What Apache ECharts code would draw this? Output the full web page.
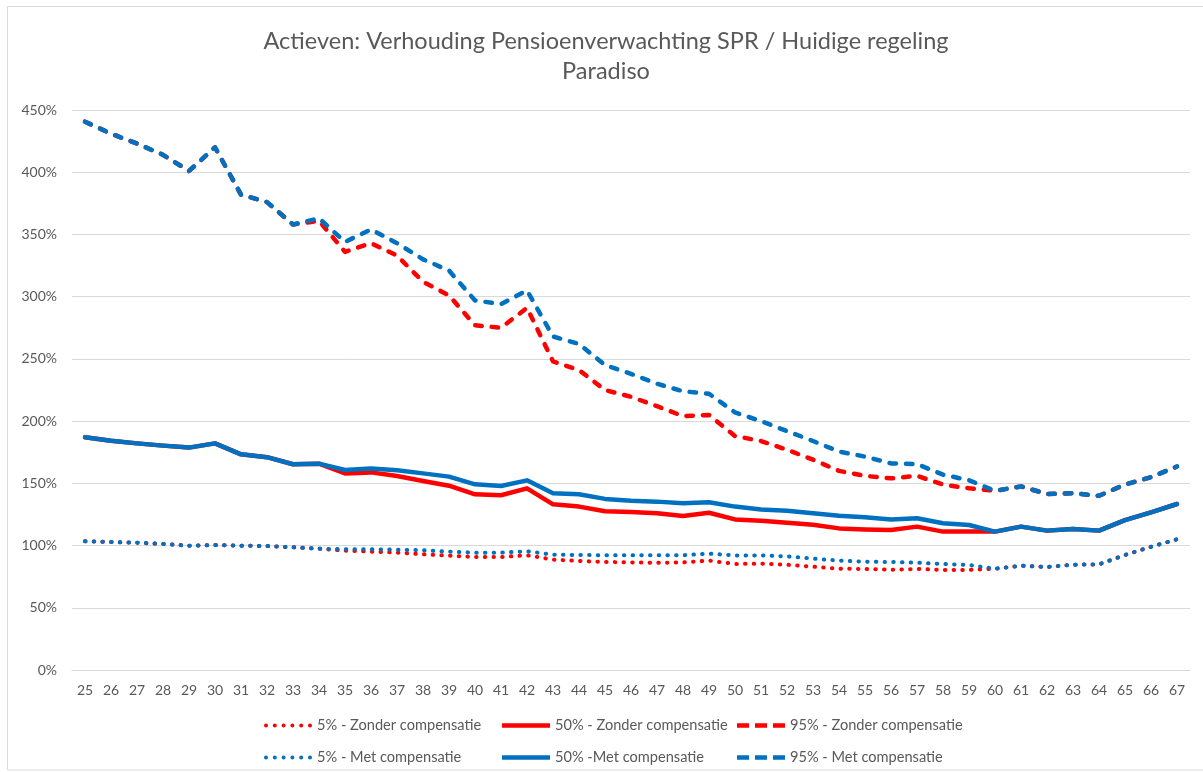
<!DOCTYPE html>
<html>
<head>
<meta charset="utf-8">
<script src="https://cdn.jsdelivr.net/npm/echarts@6/dist/echarts.min.js"></script>
<style>html,body{margin:0;padding:0;background:#fff;}#chart{width:1203px;height:772px;}</style>
</head>
<body>
<div id="chart"></div>
<script>
const ages = ['25','26','27','28','29','30','31','32','33','34','35','36','37','38','39','40','41','42','43','44','45','46','47','48','49','50','51','52','53','54','55','56','57','58','59','60','61','62','63','64','65','66','67'];
const yTicks = { min: 0, max: 450, interval: 50 };

const p5Zonder = [103.4,102.9,102.3,101.3,99.9,100.4,99.9,99.6,98.6,97.5,95.9,95.1,94.3,93.0,91.9,90.8,90.8,92.2,88.7,87.6,86.8,86.5,86.1,86.5,87.9,85.2,85.5,84.6,83.0,81.4,81.2,80.6,81.2,80.4,80.4,81.4,83.8,82.8,84.6,84.9,92.4,99.0,105.0];
const p50Zonder = [187.0,184.3,182.1,180.3,178.7,182.1,173.3,171.0,165.3,165.8,158.0,158.8,155.9,151.9,148.1,141.2,140.4,146.0,133.1,131.3,127.5,127.0,126.0,123.8,126.4,121.0,120.0,118.4,116.8,113.8,113.0,112.5,115.2,111.2,111.2,111.2,115.2,112.0,113.3,112.0,120.5,126.7,133.4];
const p95Zonder = [440.6,431.0,423.0,414.0,401.0,420.0,382.0,376.0,358.0,361.0,336.0,343.0,333.0,312.0,301.0,277.0,275.0,291.0,248.0,241.0,225.0,219.5,212.0,204.0,205.0,188.0,184.0,177.0,169.0,160.0,156.0,154.0,156.0,149.0,146.0,144.0,147.5,141.5,142.0,140.0,149.0,155.0,163.5];
const p5Met = [103.4,102.9,102.3,101.3,99.9,100.4,99.9,99.6,98.6,97.5,97.0,97.0,96.7,96.2,95.1,94.3,94.3,95.4,92.7,92.4,92.2,92.2,92.2,92.2,93.5,92.1,92.1,91.3,89.5,87.9,87.0,86.8,86.2,85.2,84.4,81.4,83.8,82.8,84.6,84.9,92.4,99.0,105.0];
const p50Met = [187.0,184.3,182.1,180.3,178.7,182.1,173.3,171.0,165.3,165.8,160.7,162.0,160.5,158.0,155.4,149.2,147.9,152.4,142.0,141.2,137.5,136.0,135.3,134.0,134.8,131.3,129.0,128.0,126.0,124.0,122.7,121.0,121.9,117.9,116.5,111.2,115.2,112.0,113.3,112.0,120.5,126.7,133.4];
const p95Met = [440.6,431.0,423.0,414.0,401.0,420.0,382.0,376.0,358.0,363.0,344.0,354.0,343.0,330.0,321.0,297.0,294.0,305.0,268.0,262.0,245.0,238.0,230.0,224.0,222.0,207.0,200.0,192.0,184.0,175.5,171.5,166.0,165.5,157.0,152.5,144.0,147.5,141.5,142.0,140.0,149.0,155.0,163.5];

const names = ['5% - Zonder compensatie','50% - Zonder compensatie','95% - Zonder compensatie','5% - Met compensatie','50% -Met compensatie','95% - Met compensatie'];

const RED = '#FF0000', BLUE = '#0070C0';
const FONT = 'Lato, "Noto Sans", sans-serif';
const TXT = '#595959';

const DOT = [0.5, 8.2], DASH = [6.5, 10];
function mk(name, data, color, kind) {
  const w = kind === 'dot' ? 4 : 4.5;
  return {
    name, type: 'line', data, symbol: 'none', smooth: false,
    itemStyle: { color },
    lineStyle: { color, width: w, type: kind === 'dot' ? DOT : (kind === 'dash' ? DASH : 'solid'), cap: 'round', join: 'round' },
    emphasis: { disabled: true }
  };
}

const ICON_DOT = 'path://' + [0,8.8,17.6,26.4,35.2,44].map(x => `M${x},2a2,2 0 1,0 4,0a2,2 0 1,0 -4,0z`).join('');
const ICON_SOLID = 'path://M0,0h48v4.5h-48z';
const ICON_DASH = 'path://M0,0h12v4.5h-12zM18,0h12v4.5h-12zM36,0h12v4.5h-12z';
const icons = [ICON_DOT, ICON_SOLID, ICON_DASH, ICON_DOT, ICON_SOLID, ICON_DASH];
const legLeft = [259, 497, 732, 259, 497, 732];
const legTop = [713, 713, 713, 745, 745, 745];

const legends = names.map((n, i) => ({
  data: [{ name: n, icon: icons[i] }],
  left: legLeft[i], top: legTop[i],
  itemWidth: 48, itemHeight: 16, itemGap: 0,
  itemStyle: { borderWidth: 0 },
  selectedMode: false,
  textStyle: { color: TXT, fontSize: 14.6, fontFamily: FONT, padding: [0, 0, 0, 0] }
}));

const chart = echarts.init(document.getElementById('chart'), null, { renderer: 'canvas' });
chart.setOption({
  animation: false,
  backgroundColor: '#fff',
  title: {
    text: 'Actieven: Verhouding Pensioenverwachting SPR / Huidige regeling\nParadiso',
    left: 601, top: 21, textAlign: 'center',
    textStyle: { color: TXT, fontSize: 23.5, fontWeight: 'normal', fontFamily: FONT, lineHeight: 30 }
  },
  graphic: [{
    type: 'rect', shape: { x: 7.5, y: 6.5, width: 1220, height: 763.5 },
    style: { fill: 'none', stroke: '#D9D9D9', lineWidth: 1 }, silent: true, z: -1
  }],
  legend: legends,
  grid: { left: 72, right: 13, top: 110, bottom: 102 },
  xAxis: {
    type: 'category', data: ages, boundaryGap: true,
    axisLine: { show: true, lineStyle: { color: '#D9D9D9', width: 1 } },
    axisTick: { show: false },
    axisLabel: { color: TXT, fontSize: 14, fontFamily: FONT, margin: 13, interval: 0 }
  },
  yAxis: {
    type: 'value', min: yTicks.min, max: yTicks.max, interval: yTicks.interval,
    axisLine: { show: false }, axisTick: { show: false },
    splitLine: { lineStyle: { color: '#D9D9D9', width: 1 } },
    axisLabel: { color: TXT, fontSize: 14, fontFamily: FONT, margin: 15, formatter: '{value}%' }
  },
  series: [
    mk(names[0], p5Zonder, RED, 'dot'),
    mk(names[1], p50Zonder, RED, 'solid'),
    mk(names[2], p95Zonder, RED, 'dash'),
    mk(names[3], p5Met, BLUE, 'dot'),
    mk(names[4], p50Met, BLUE, 'solid'),
    mk(names[5], p95Met, BLUE, 'dash')
  ]
});
</script>
</body>
</html>
